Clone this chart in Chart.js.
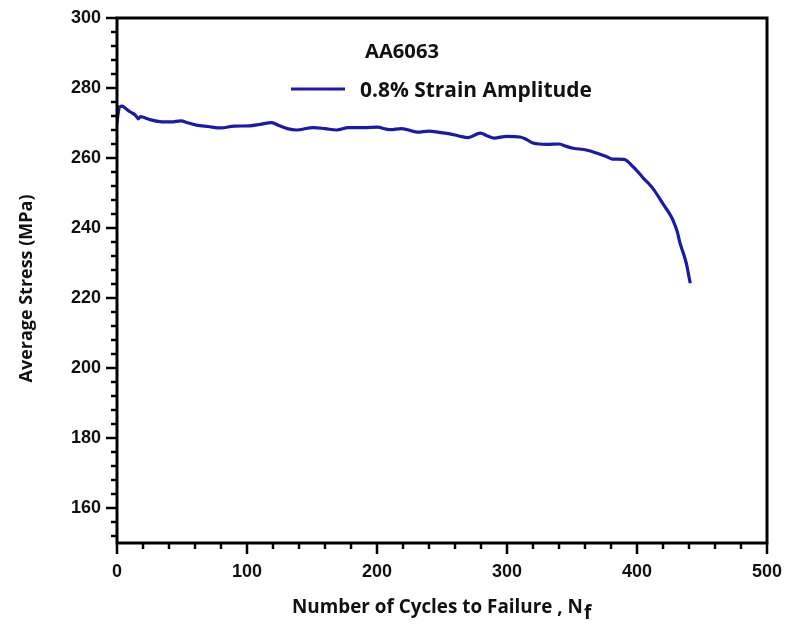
<!DOCTYPE html>
<html lang="en">
<head>
  <meta charset="UTF-8" />
  <title>AA6063 Average Stress</title>
  <script src="https://cdn.jsdelivr.net/npm/chart.js"></script>
  <style>
    * {
      margin: 0;
      padding: 0;
      box-sizing: border-box;
    }

    body {
      background: #fff;
    }

    .wrap {
      width: 786px;
      height: 629px;
    }
  </style>
</head>
<body>
  <div class="wrap">
    <canvas id="stressChart" width="786" height="629"></canvas>
  </div>

  <script>
    // data
    const cycles = [0, 0.8, 2, 4, 6.5, 10, 14, 16.5, 18, 25, 33, 42, 49, 55, 61, 70, 80, 90,
      102, 110, 119, 125, 131, 138, 151, 160, 169, 178, 190, 200, 210, 219, 231, 240, 248,
      256, 263, 270, 279.5, 285, 290, 300, 310, 315, 320, 331, 340, 345, 351, 361, 370, 376,
      381, 390, 397, 402, 405, 409, 413, 417, 420.5, 424, 427, 429, 431, 433, 435, 436.5,
      438, 439, 440, 441];
    const stress = [270.0, 272.5, 274.6, 274.8, 274.2, 273.2, 272.3, 271.2, 271.8, 271.0,
      270.4, 270.3, 270.6, 270.0, 269.4, 269.0, 268.6, 269.1, 269.2, 269.6, 270.1, 269.2,
      268.4, 268.0, 268.7, 268.4, 268.0, 268.7, 268.7, 268.8, 268.1, 268.4, 267.4, 267.7,
      267.3, 266.9, 266.3, 265.8, 267.1, 266.3, 265.7, 266.2, 266.0, 265.3, 264.3, 263.9,
      264.0, 263.4, 262.8, 262.3, 261.3, 260.5, 259.7, 259.6, 257.5, 255.5, 254.2, 252.7,
      250.9, 248.7, 246.6, 244.7, 242.8, 241.0, 238.9, 235.8, 233.5, 231.8, 229.8, 228.0,
      226.0, 224.2];

    const xMajor = [0, 100, 200, 300, 400, 500];
    const yMajor = [160, 180, 200, 220, 240, 260, 280, 300];
    const xMinorStep = 20;
    const yMinorStep = 4;

    const seriesName = '0.8% Strain Amplitude';
    const alloyName = 'AA6063';
    const xTitle = 'Number of Cycles to Failure , N';
    const xTitleSub = 'f';
    const yTitle = 'Average Stress (MPa)';

    const lineColor = '#1a1aaa';
    const textFamily = "'Open Sans', sans-serif";
    const tickFont = { family: "'Liberation Sans', Arial, sans-serif", size: 18, weight: 'bold' };

    // font size that makes text fill a given width
    function fitSize(ctx, text, width) {
      ctx.font = 'bold 100px ' + textFamily;
      return 100 * width / ctx.measureText(text).width;
    }

    // frame, tick marks and labels drawn on top
    const framePlugin = {
      id: 'frame',
      afterDraw(chart) {
        const ctx = chart.ctx;
        const a = chart.chartArea;
        const xs = chart.scales.x;
        const ys = chart.scales.y;
        ctx.save();
        ctx.strokeStyle = '#000';
        ctx.lineCap = 'butt';

        // minor + major ticks, outward
        ctx.lineWidth = 2.5;
        for (let v = xs.min; v <= xs.max; v += xMinorStep) {
          const px = xs.getPixelForValue(v);
          const len = xMajor.includes(v) ? 11 : 6;
          ctx.beginPath();
          ctx.moveTo(px, a.bottom);
          ctx.lineTo(px, a.bottom + len);
          ctx.stroke();
        }
        for (let v = 300; v > ys.min; v -= yMinorStep) {
          const py = ys.getPixelForValue(v);
          const len = yMajor.includes(v) ? 11 : 6;
          ctx.beginPath();
          ctx.moveTo(a.left, py);
          ctx.lineTo(a.left - len, py);
          ctx.stroke();
        }

        ctx.lineWidth = 3;
        ctx.strokeRect(a.left, a.top, a.right - a.left, a.bottom - a.top);

        ctx.fillStyle = '#111';

        // legend inside the plot
        let s = fitSize(ctx, alloyName, 74);
        ctx.font = 'bold ' + s + 'px ' + textFamily;
        ctx.textAlign = 'left';
        ctx.textBaseline = 'alphabetic';
        ctx.fillText(alloyName, 365, 58);

        ctx.strokeStyle = lineColor;
        ctx.lineWidth = 3;
        ctx.beginPath();
        ctx.moveTo(291, 89);
        ctx.lineTo(345, 89);
        ctx.stroke();

        s = fitSize(ctx, seriesName, 232);
        ctx.font = 'bold ' + s + 'px ' + textFamily;
        ctx.fillText(seriesName, 360, 97);

        // x axis title with subscript
        s = fitSize(ctx, xTitle, 291);
        ctx.font = 'bold ' + s + 'px ' + textFamily;
        ctx.fillText(xTitle, 292, 613);
        const w = ctx.measureText(xTitle).width;
        ctx.fillText(xTitleSub, 292 + w + 1, 619);

        // y axis title
        s = fitSize(ctx, yTitle, 188);
        ctx.font = 'bold ' + s + 'px ' + textFamily;
        ctx.translate(27, (a.top + a.bottom) / 2 + 8);
        ctx.rotate(-Math.PI / 2);
        ctx.textAlign = 'center';
        ctx.textBaseline = 'middle';
        ctx.fillText(yTitle, 0, 0);
        ctx.restore();
      }
    };

    const ctx = document.getElementById('stressChart').getContext('2d');
    const points = cycles.map((c, i) => ({ x: c, y: stress[i] }));

    new Chart(ctx, {
      type: 'line',
      data: {
        datasets: [{
          label: seriesName,
          data: points,
          borderColor: lineColor,
          borderWidth: 3.2,
          pointRadius: 0,
          cubicInterpolationMode: 'monotone',
          fill: false
        }]
      },
      options: {
        responsive: false,
        animation: false,
        layout: {
          padding: { top: 18, right: 19, left: 0, bottom: 0 }
        },
        plugins: {
          legend: { display: false },
          tooltip: { enabled: false }
        },
        scales: {
          x: {
            type: 'linear',
            min: 0,
            max: 500,
            afterBuildTicks: (scale) => {
              scale.ticks = xMajor.map(v => ({ value: v }));
            },
            afterFit: (scale) => {
              scale.height = 86;
              scale.paddingLeft = 0;
              scale.paddingRight = 0;
            },
            grid: { display: false, drawTicks: false },
            border: { display: false },
            ticks: {
              color: '#111',
              font: tickFont,
              padding: 18,
              maxRotation: 0,
              autoSkip: false
            }
          },
          y: {
            min: 150,
            max: 300,
            afterBuildTicks: (scale) => {
              scale.ticks = yMajor.map(v => ({ value: v }));
            },
            afterFit: (scale) => {
              scale.width = 117;
              scale.paddingTop = 0;
              scale.paddingBottom = 0;
            },
            grid: { display: false, drawTicks: false },
            border: { display: false },
            ticks: {
              color: '#111',
              font: tickFont,
              padding: 16,
              autoSkip: false
            }
          }
        }
      },
      plugins: [framePlugin]
    });
  </script>
</body>
</html>
